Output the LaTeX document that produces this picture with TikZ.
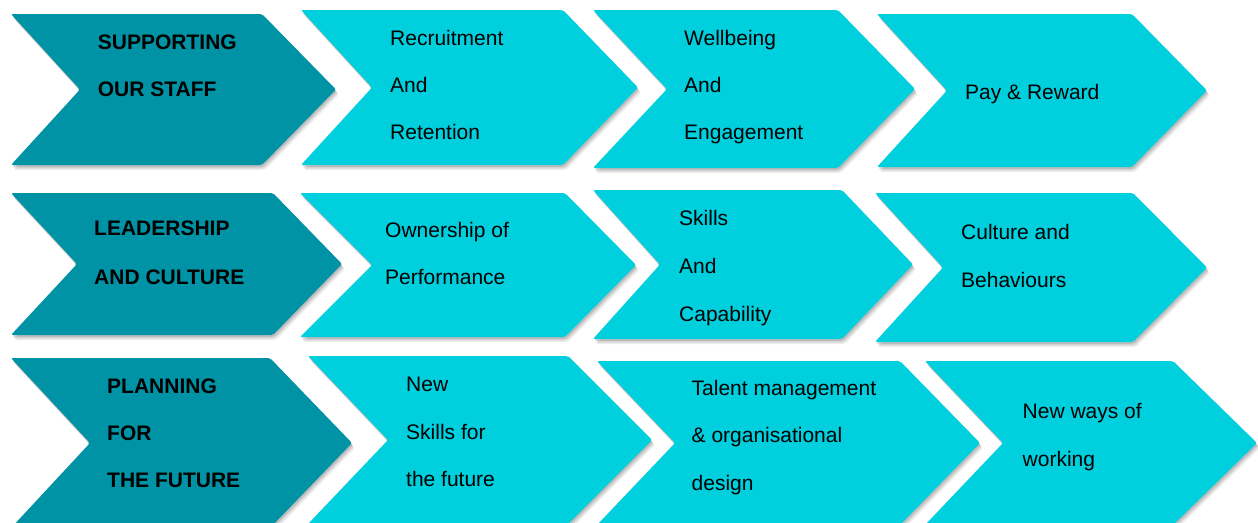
\documentclass[tikz,border=0pt]{standalone}
\usepackage{fontspec}
\setmainfont{Liberation Sans}
\usetikzlibrary{shadows}
\definecolor{darkteal}{RGB}{0,147,166}
\definecolor{lightcyan}{RGB}{0,207,222}
\tikzset{
  chevbase/.style={rounded corners=2pt,
    drop shadow={opacity=0.07, shadow xshift=3pt, shadow yshift=-5pt, fill=black},
    drop shadow={opacity=0.09, shadow xshift=2pt, shadow yshift=-3.5pt, fill=black},
    drop shadow={opacity=0.12, shadow xshift=1pt, shadow yshift=-2pt, fill=black}},
  headchev/.style={chevbase, fill=darkteal},
  itemchev/.style={chevbase, fill=lightcyan},
  lbl/.style={anchor=base west, inner sep=0pt, text=black, font=\fontsize{21}{25}\selectfont},
  headlbl/.style={lbl, font=\fontsize{21}{25}\selectfont\bfseries},
}
% #1 style, #2 left, #3 top, #4 bottom, #5 top-right x, #6 tip x, #7 notch x
\newcommand\mychev[7]{%
  \fill[#1] (#2,#3) -- (#5,#3) -- (#6,{(#3+#4)/2}) -- (#5,#4) -- (#2,#4) -- (#7,{(#3+#4)/2}) -- cycle;}
\begin{document}
\begin{tikzpicture}[x=1pt,y=-1pt]
\clip (0,0) rectangle (1258,522);
\fill[white] (0,0) rectangle (1258,522);
% row 1
\mychev{headchev}{11}{14}{165}{262}{336}{80}
\mychev{itemchev}{301}{10}{165}{563}{638}{372}
\mychev{itemchev}{593}{10}{168}{838}{915}{667}
\mychev{itemchev}{877}{14}{167}{1132}{1207}{947}
% row 2
\mychev{headchev}{11}{193}{335}{273}{342}{77}
\mychev{itemchev}{300}{193}{337}{565}{636}{372}
\mychev{itemchev}{593}{190}{339}{842}{913}{660}
\mychev{itemchev}{875}{193}{342}{1133}{1207}{943}
% row 3
\mychev{headchev}{11}{358}{528}{270}{352}{90}
\mychev{itemchev}{308}{356}{524}{568}{652}{388}
\mychev{itemchev}{597}{361}{525}{900}{980}{675}
\mychev{itemchev}{925}{361}{525}{1173}{1257}{1003}
% row 1 text
\node[headlbl] (h1a) at (97.7,49) {SUPPORTING};
\node[headlbl] (h1b) at (97.7,96.5) {OUR STAFF};
\node[lbl] (a1a) at (390,45) {Recruitment};
\node[lbl] (a1b) at (390,92) {And};
\node[lbl] (a1c) at (390,139) {Retention};
\node[lbl] (b1a) at (684,45.5) {Wellbeing};
\node[lbl] (b1b) at (684,92.5) {And};
\node[lbl] (b1c) at (684,139.5) {Engagement};
\node[lbl] (c1a) at (965,99) {Pay \& Reward};
% row 2 text
\node[headlbl] (h2a) at (94,235.5) {LEADERSHIP};
\node[headlbl] (h2b) at (94,284.5) {AND CULTURE};
\node[lbl] (a2a) at (385,237.5) {Ownership of};
\node[lbl] (a2b) at (385,284.5) {Performance};
\node[lbl] (b2a) at (679,225) {Skills};
\node[lbl] (b2b) at (679,273) {And};
\node[lbl] (b2c) at (679,321) {Capability};
\node[lbl] (c2a) at (961,239) {Culture and};
\node[lbl] (c2b) at (961,287) {Behaviours};
% row 3 text
\node[headlbl] (h3a) at (107,393) {PLANNING};
\node[headlbl] (h3b) at (107,440) {FOR};
\node[headlbl] (h3c) at (107,487.5) {THE FUTURE};
\node[lbl] (a3a) at (406,391) {New};
\node[lbl] (a3b) at (406,439) {Skills for};
\node[lbl] (a3c) at (406,486.5) {the future};
\node[lbl] (b3a) at (691.5,395) {Talent management};
\node[lbl] (b3b) at (691.5,442.5) {\& organisational};
\node[lbl] (b3c) at (691.5,490.5) {design};
\node[lbl] (c3a) at (1022.5,418.5) {New ways of};
\node[lbl] (c3b) at (1022.5,466) {working};
\end{tikzpicture}
\end{document}
